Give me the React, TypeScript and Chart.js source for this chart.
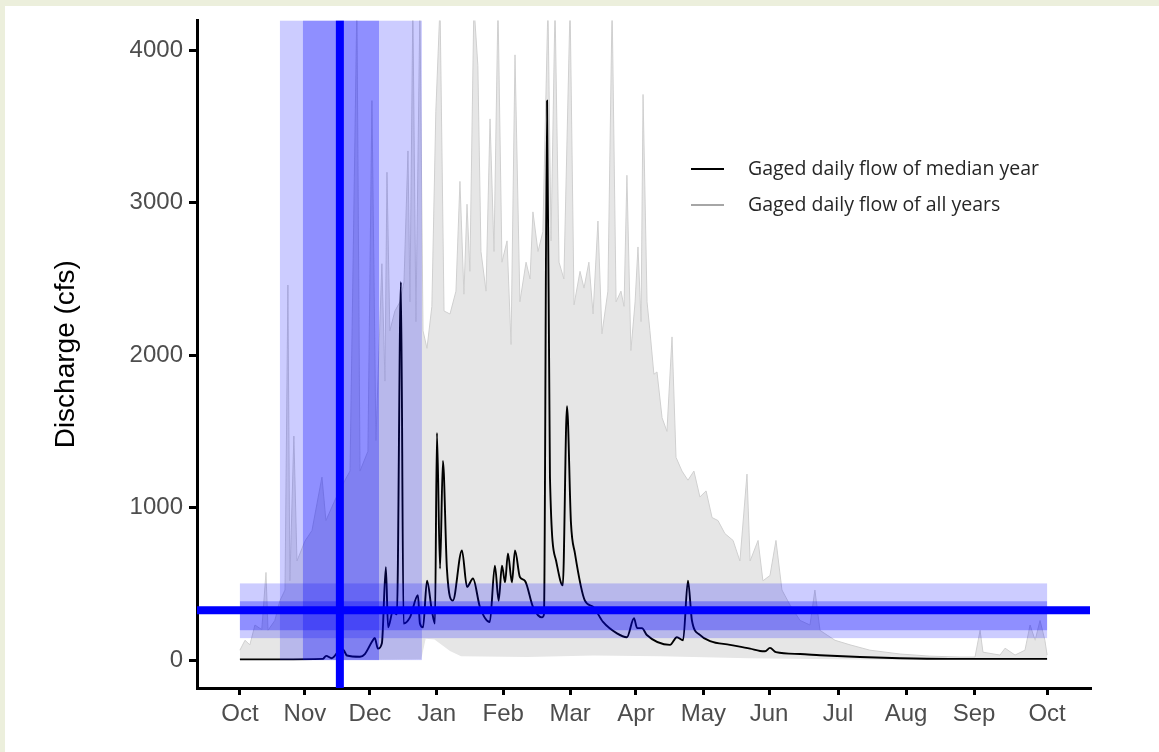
import React, { useEffect, useRef } from "react";
import { Chart, registerables } from "chart.js";

Chart.register(...registerables);

// ---------- data ----------
const monthLabels = ["Oct", "Nov", "Dec", "Jan", "Feb", "Mar", "Apr", "May", "Jun", "Jul", "Aug", "Sep", "Oct"];
const monthTickDays = [0, 29.4, 58.8, 89.0, 119.1, 149.3, 179.1, 209.6, 239.3, 270.5, 301.2, 332.0, 365];
const yTickValues = [0, 1000, 2000, 3000, 4000];

// median year daily flow (day of water year, cfs)
const medianDays = [0, 18, 37.5, 39, 41.5, 45, 46.6, 48.4, 54.3, 56.5, 59.7, 61, 62.4, 64.2, 66, 67, 69.2, 71, 72.8, 74, 76.9, 80.5, 81.4, 82.8, 84.6, 86.8, 88.2, 89.1, 90.5, 91.8, 93.6, 96.3, 100.4, 102.7, 105.4, 108.5, 113, 115.3, 117, 118.5, 119.9, 121.2, 123, 124.4, 126.6, 128.9, 132.5, 136.6, 137.5, 138.9, 140.2, 143, 146, 147.9, 149.7, 151.5, 156, 159.7, 164.2, 170.5, 175, 178.2, 179.6, 181.8, 184, 194.5, 197.6, 200.4, 202.6, 204.4, 208, 212.6, 221.6, 230.7, 235.2, 237.5, 239.7, 242.4, 253.3, 262.3, 280.4, 298.5, 321, 343.7, 361.8, 365];
const medianFlow = [5, 5, 8, 28, 12, 65, 70, 30, 22, 40, 120, 145, 75, 110, 610, 215, 320, 300, 2480, 240, 280, 425, 240, 215, 520, 325, 240, 1490, 600, 1307, 600, 390, 720, 480, 535, 350, 250, 620, 390, 620, 510, 700, 510, 720, 545, 520, 350, 280, 300, 3670, 1200, 650, 490, 1665, 900, 700, 390, 350, 250, 175, 150, 275, 210, 210, 165, 100, 150, 130, 520, 260, 165, 125, 100, 75, 60, 58, 80, 52, 40, 32, 20, 12, 8, 8, 8, 8];

// upper envelope of all years
const allMaxDays = [0, 2.3, 4.5, 6.8, 9.9, 11.8, 12.7, 15.8, 18.1, 20.4, 21.7, 22.6, 24.4, 25.8, 29.4, 32.6, 37.1, 38.9, 43, 47.5, 49.8, 52.9, 54.3, 57.9, 59.7, 61.5, 64.2, 65.6, 66.5, 67.8, 70.1, 72.4, 74.2, 76, 76.9, 78.2, 79.6, 81.4, 82.8, 84.6, 86.8, 88.6, 90.5, 92.3, 95, 97.7, 99.5, 101.3, 102.7, 104, 105.8, 107.6, 109, 111.3, 113.1, 114.9, 116.7, 118.5, 120.8, 122.6, 124.4, 126.6, 129.4, 131.2, 132.5, 134.8, 137, 139.3, 140.7, 142.5, 144.3, 146.5, 149.3, 151.1, 153.8, 155.6, 157.8, 159.7, 161.9, 163.7, 166.4, 168.3, 170.1, 172.3, 173.7, 175, 176.8, 178.7, 180, 181.4, 182.3, 184.1, 185.4, 187.2, 188.6, 190.9, 193.1, 195.4, 197.2, 199.9, 202.6, 205.3, 208, 210.8, 213.5, 216.2, 219.3, 223, 226.1, 229.3, 230.7, 234.3, 236.5, 239.7, 242.4, 245.1, 248.8, 253.3, 257.8, 260, 262.3, 269.1, 275.9, 284.9, 298.5, 312, 325.6, 332.4, 334.7, 336, 343.7, 346, 350.5, 355, 357.3, 359.6, 361.8, 364, 365];
const allMaxFlow = [65, 130, 100, 230, 200, 575, 195, 260, 390, 460, 2460, 520, 1470, 650, 780, 850, 1200, 915, 1050, 1180, 1240, 4300, 1240, 1370, 3670, 1440, 2600, 1830, 3200, 2160, 2290, 2350, 2480, 3340, 2350, 4300, 2220, 4300, 2160, 2045, 2320, 3600, 4300, 2290, 2270, 2420, 3140, 2400, 2990, 2550, 4300, 3900, 2680, 2420, 3550, 2680, 4300, 2610, 2750, 2070, 3970, 2350, 2610, 2500, 2940, 2680, 2810, 4300, 2750, 4300, 2610, 2500, 4300, 2330, 2550, 2440, 2610, 2270, 2880, 2140, 2420, 4300, 2350, 2420, 2320, 3180, 2030, 2350, 2710, 2220, 3710, 2350, 2160, 1875, 1890, 1590, 1500, 2120, 1330, 1240, 1180, 1240, 1070, 1110, 935, 915, 830, 785, 650, 1220, 650, 785, 520, 555, 785, 460, 360, 260, 230, 460, 195, 130, 100, 65, 40, 26, 20, 20, 195, 52, 33, 78, 33, 65, 230, 130, 260, 130, 33];

// lower envelope of all years
const allMinDays = [0, 60, 82, 84, 88, 95, 100, 130, 160, 190, 230, 270, 300, 365];
const allMinFlow = [2, 3, 5, 140, 135, 60, 25, 20, 30, 25, 12, 5, 2, 2];

// shaded ranges
const vBandOuterDays = [18.1, 82.3];
const vBandInnerDays = [28.5, 62.9];
const vLineDay = [45.2];
const hBandOuterFlow = [144, 503];
const hBandInnerFlow = [196, 386];
const hLineFlow = [327];
const hBandDays = [0, 365];

const legendLabels = ["Gaged daily flow of median year", "Gaged daily flow of all years"];

const toPoints = (xs: number[], ys: number[]) => xs.map((x, i) => ({ x, y: ys[i] }));

const bandsPlugin = {
  id: "bands",
  afterDatasetsDraw(chart: any) {
    const { ctx, chartArea, scales } = chart;
    const x = scales.x;
    const y = scales.y;
    ctx.save();
    ctx.beginPath();
    ctx.rect(chartArea.left, chartArea.top, chartArea.right - chartArea.left, chartArea.bottom - chartArea.top);
    ctx.clip();
    const y0 = y.getPixelForValue(0);
    // vertical bands
    ctx.fillStyle = "rgba(0,0,255,0.2)";
    let a = x.getPixelForValue(vBandOuterDays[0]);
    let b = x.getPixelForValue(vBandOuterDays[1]);
    ctx.fillRect(a, chartArea.top, b - a, y0 - chartArea.top);
    ctx.fillStyle = "rgba(0,0,255,0.3)";
    a = x.getPixelForValue(vBandInnerDays[0]);
    b = x.getPixelForValue(vBandInnerDays[1]);
    ctx.fillRect(a, chartArea.top, b - a, y0 - chartArea.top);
    // horizontal bands
    const hx0 = x.getPixelForValue(hBandDays[0]);
    const hx1 = x.getPixelForValue(hBandDays[1]);
    ctx.fillStyle = "rgba(0,0,255,0.2)";
    let t = y.getPixelForValue(hBandOuterFlow[1]);
    let bt = y.getPixelForValue(hBandOuterFlow[0]);
    ctx.fillRect(hx0, t, hx1 - hx0, bt - t);
    ctx.fillStyle = "rgba(0,0,255,0.3)";
    t = y.getPixelForValue(hBandInnerFlow[1]);
    bt = y.getPixelForValue(hBandInnerFlow[0]);
    ctx.fillRect(hx0, t, hx1 - hx0, bt - t);
    // lines
    ctx.fillStyle = "#0000ff";
    const vx = x.getPixelForValue(vLineDay[0]);
    ctx.fillRect(vx - 4, chartArea.top, 8, chartArea.bottom - chartArea.top);
    const hy = y.getPixelForValue(hLineFlow[0]);
    ctx.fillRect(chartArea.left, hy - 4, chartArea.right - chartArea.left, 8);
    ctx.restore();
  },
};

const legendPlugin = {
  id: "insideLegend",
  afterDraw(chart: any) {
    const { ctx } = chart;
    ctx.save();
    const items = [
      { color: "#000000", y: 169 },
      { color: "#a6a6a6", y: 205 },
    ];
    items.forEach((it, i) => {
      ctx.strokeStyle = it.color;
      ctx.lineWidth = 2;
      ctx.beginPath();
      ctx.moveTo(691, it.y);
      ctx.lineTo(724, it.y);
      ctx.stroke();
      ctx.fillStyle = "#262626";
      ctx.font = "19.5px 'Open Sans'";
      ctx.textBaseline = "middle";
      ctx.textAlign = "left";
      ctx.fillText(legendLabels[i], 748, it.y);
    });
    ctx.restore();
  },
};

export default function App() {
  const ref = useRef<HTMLCanvasElement | null>(null);

  useEffect(() => {
    document.body.style.margin = "0";
    const canvas = ref.current;
    if (!canvas) return;
    const tickFont = { family: "'Liberation Sans', Arial, sans-serif", size: 24 };
    const chart = new Chart(canvas, {
      type: "line",
      data: {
        datasets: [
          {
            label: legendLabels[0],
            data: toPoints(medianDays, medianFlow),
            borderColor: "#000000",
            borderWidth: 1.9,
            pointRadius: 0,
            cubicInterpolationMode: "monotone",
            fill: false,
            order: 0,
          },
          {
            label: legendLabels[1],
            data: toPoints(allMaxDays, allMaxFlow),
            borderColor: "rgba(208,208,208,1)",
            borderWidth: 1,
            backgroundColor: "#e6e6e6",
            pointRadius: 0,
            tension: 0,
            fill: "+1",
            order: 1,
          },
          {
            label: "min",
            data: toPoints(allMinDays, allMinFlow),
            borderColor: "rgba(0,0,0,0)",
            borderWidth: 0,
            pointRadius: 0,
            tension: 0,
            fill: false,
            order: 2,
          },
        ],
      },
      options: {
        animation: false,
        responsive: true,
        maintainAspectRatio: false,
        layout: { padding: { left: 0, top: 18, right: 69, bottom: 0 } },
        plugins: {
          legend: { display: false },
          tooltip: { enabled: false },
        },
        scales: {
          x: {
            type: "linear",
            min: -19.4,
            max: 384.4,
            afterBuildTicks: (s: any) => {
              s.ticks = monthTickDays.map((v) => ({ value: v }));
            },
            afterFit: (s: any) => {
              s.height = 64;
            },
            ticks: {
              autoSkip: false,
              maxRotation: 0,
              color: "#4d4d4d",
              font: tickFont,
              padding: 5,
              callback: (_v: any, i: number) => monthLabels[i],
            },
            grid: { display: true, drawOnChartArea: false, drawTicks: true, tickLength: 7, color: "#000000", lineWidth: 3 },
            border: { display: true, color: "#000000", width: 3 },
          },
          y: {
            type: "linear",
            min: -183,
            max: 4196,
            afterBuildTicks: (s: any) => {
              s.ticks = yTickValues.map((v) => ({ value: v }));
            },
            afterFit: (s: any) => {
              s.width = 197;
            },
            ticks: {
              color: "#4d4d4d",
              font: tickFont,
              padding: 6,
              callback: (v: any) => String(v),
            },
            title: {
              display: true,
              text: "Discharge (cfs)",
              color: "#000000",
              font: { family: "'Liberation Sans', Arial, sans-serif", size: 28 },
              padding: { top: 49, bottom: 0 },
            },
            grid: { display: true, drawOnChartArea: false, drawTicks: true, tickLength: 8, color: "#000000", lineWidth: 3 },
            border: { display: true, color: "#000000", width: 3 },
          },
        },
      },
      plugins: [bandsPlugin, legendPlugin],
    });
    return () => chart.destroy();
  }, []);

  return (
    <div style={{ position: "absolute", left: 0, top: 0, width: 1159, height: 752, background: "#ecefdc", overflow: "hidden" }}>
      <div style={{ position: "absolute", left: 5, top: 6, width: 1154, height: 746, background: "#ffffff" }} />
      <div style={{ position: "absolute", left: 0, top: 0, width: 1159, height: 752 }}>
        <canvas ref={ref} />
      </div>
    </div>
  );
}
